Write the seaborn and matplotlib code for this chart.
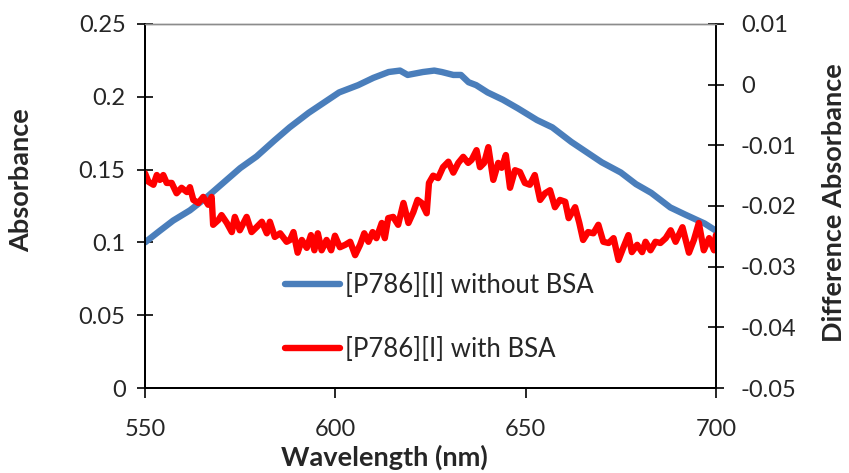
import numpy as np
import pandas as pd
import matplotlib
matplotlib.use("Agg")
import matplotlib.pyplot as plt
import seaborn as sns

# blue trace: absorbance without BSA (left axis)
wl_blue = [550, 553.9, 557.4, 561.8, 566.2, 570.6, 575, 579.3, 584, 588, 593, 597,
           601, 606, 610, 614, 617, 619, 621, 623, 626, 628, 631, 633, 635, 637,
           640, 644, 648, 653, 657, 662, 666, 670, 675, 679, 683, 688, 692, 697, 700]
abs_blue = [0.100, 0.108, 0.115, 0.122, 0.131, 0.141, 0.151, 0.159, 0.170, 0.179,
            0.189, 0.196, 0.203, 0.208, 0.213, 0.217, 0.218, 0.215, 0.216, 0.217,
            0.218, 0.217, 0.215, 0.215, 0.210, 0.208, 0.203, 0.198, 0.192, 0.184,
            0.179, 0.169, 0.162, 0.155, 0.148, 0.140, 0.134, 0.124, 0.119, 0.113, 0.108]

# red trace: difference absorbance with BSA (right axis)
wl_red = [550.0, 550.9, 552.2, 553.1, 553.9, 554.8, 555.7, 557.0, 558.3, 559.6,
          561.0, 561.8, 562.7, 564.0, 565.3, 566.6, 567.5, 567.9, 569.3, 570.1,
          571.5, 572.8, 573.6, 574.9, 576.7, 578.0, 579.3, 580.7, 582.0, 582.8,
          584.1, 585.5, 587.2, 588.1, 589.0, 590.1, 591.2, 592.5, 593.6, 594.5,
          595.4, 596.4, 597.7, 598.9, 599.9, 601.2, 602.6, 603.9, 605.2, 606.5,
          607.6, 608.7, 609.8, 610.8, 612.2, 613.0, 613.9, 615.2, 616.5, 617.9,
          619.2, 620.5, 621.6, 622.7, 624.0, 624.6, 625.7, 627.0, 628.3, 629.7,
          631.0, 632.3, 633.6, 634.9, 635.8, 637.1, 638.0, 639.1, 640.2, 641.5,
          642.8, 643.7, 644.8, 645.9, 647.2, 648.5, 649.8, 651.1, 652.4, 653.8,
          655.1, 656.4, 657.7, 659.0, 660.4, 661.3, 663.0, 664.1, 665.1, 666.4,
          667.8, 669.1, 670.4, 671.8, 673.1, 674.4, 675.7, 677.0, 677.9, 679.3,
          680.6, 681.5, 682.8, 684.1, 685.4, 686.8, 688.1, 689.4, 691.2, 692.9,
          694.2, 695.5, 696.8, 698.2, 699.5, 700.0]
diff_red = [-0.0146, -0.0160, -0.0165, -0.0149, -0.0157, -0.0149, -0.0162, -0.0162, -0.0179, -0.0170,
            -0.0177, -0.0169, -0.0190, -0.0195, -0.0185, -0.0198, -0.0185, -0.0231, -0.0223, -0.0215,
            -0.0228, -0.0243, -0.0218, -0.0240, -0.0218, -0.0243, -0.0235, -0.0226, -0.0245, -0.0226,
            -0.0251, -0.0245, -0.0259, -0.0256, -0.0243, -0.0277, -0.0256, -0.0269, -0.0248, -0.0273,
            -0.0245, -0.0273, -0.0256, -0.0273, -0.0249, -0.0268, -0.0264, -0.0259, -0.0281, -0.0264,
            -0.0245, -0.0259, -0.0243, -0.0253, -0.0228, -0.0253, -0.0220, -0.0218, -0.0231, -0.0195,
            -0.0228, -0.0210, -0.0190, -0.0195, -0.0212, -0.0162, -0.0150, -0.0154, -0.0136, -0.0127,
            -0.0145, -0.0129, -0.0119, -0.0129, -0.0124, -0.0108, -0.0136, -0.0129, -0.0103, -0.0157,
            -0.0129, -0.0137, -0.0116, -0.0170, -0.0141, -0.0144, -0.0162, -0.0165, -0.0149, -0.0190,
            -0.0179, -0.0174, -0.0202, -0.0190, -0.0193, -0.0220, -0.0202, -0.0228, -0.0256, -0.0243,
            -0.0245, -0.0231, -0.0259, -0.0261, -0.0253, -0.0289, -0.0268, -0.0248, -0.0276, -0.0264,
            -0.0276, -0.0259, -0.0273, -0.0259, -0.0261, -0.0253, -0.0240, -0.0259, -0.0235, -0.0277,
            -0.0256, -0.0228, -0.0273, -0.0253, -0.0273, -0.0248]

left_ticks = [0, 0.05, 0.1, 0.15, 0.2, 0.25]
left_labels = ["0", "0.05", "0.1", "0.15", "0.2", "0.25"]
right_ticks = [-0.05, -0.04, -0.03, -0.02, -0.01, 0, 0.01]
right_labels = ["-0.05", "-0.04", "-0.03", "-0.02", "-0.01", "0", "0.01"]
x_ticks = [550, 600, 650, 700]

blue_df = pd.DataFrame({"Wavelength": wl_blue, "Absorbance": abs_blue})
red_df = pd.DataFrame({"Wavelength": wl_red, "Difference": diff_red})

sns.set_style("ticks")
plt.rcParams["font.family"] = ["Lato", "DejaVu Sans"]
plt.rcParams["axes.unicode_minus"] = False

fig = plt.figure(figsize=(8.49, 4.73), dpi=100)
ax = fig.add_axes([0.1708, 0.1797, 0.6725, 0.7696])
ax2 = ax.twinx()

sns.lineplot(data=blue_df, x="Wavelength", y="Absorbance", ax=ax, color="#4a7ebb",
             linewidth=4.6, label="[P786][I] without BSA", legend=False)
sns.lineplot(data=red_df, x="Wavelength", y="Difference", ax=ax2, color="#ff0000",
             linewidth=4.6, label="[P786][I] with BSA", legend=False)

ax.set_xlim(550, 700)
ax.set_ylim(0, 0.25)
ax2.set_ylim(-0.05, 0.01)
ax.set_xticks(x_ticks)
ax.set_xticklabels([str(t) for t in x_ticks])
ax.set_yticks(left_ticks)
ax.set_yticklabels(left_labels)
ax2.set_yticks(right_ticks)
ax2.set_yticklabels(right_labels)

for a in (ax, ax2):
    for s in ("left", "right", "bottom"):
        a.spines[s].set_color("black")
        a.spines[s].set_linewidth(1.4)
    a.spines["top"].set_color("#8c8c8c")
    a.spines["top"].set_linewidth(1.0)
ax.spines["right"].set_visible(False)

ax.tick_params(axis="y", direction="inout", length=12, width=1.4, labelsize=17, pad=8)
ax.tick_params(axis="x", direction="out", length=7, width=1.4, labelsize=17, pad=15)
ax2.tick_params(axis="y", direction="inout", length=12, width=1.4, labelsize=17, pad=12)

ax.set_xlabel("Wavelength (nm)", fontsize=19.5, fontweight="bold")
ax.set_ylabel("Absorbance", fontsize=19.5, fontweight="bold")
ax2.set_ylabel("Difference Absorbance", fontsize=19.5, fontweight="bold")
ax.xaxis.set_label_coords(0.42, -0.155)
ax.yaxis.set_label_coords(-0.196, 0.571)
ax2.yaxis.set_label_coords(1.186, 0.508)

h1, l1 = ax.get_legend_handles_labels()
h2, l2 = ax2.get_legend_handles_labels()
ax2.legend(h1 + h2, l1 + l2, loc="upper left", bbox_to_anchor=(0.245, 0.315),
           frameon=False, fontsize=18.5, handlelength=2.15, handletextpad=0.2,
           labelspacing=1.5, borderpad=0, borderaxespad=0)

fig.savefig("out.png", dpi=100)
